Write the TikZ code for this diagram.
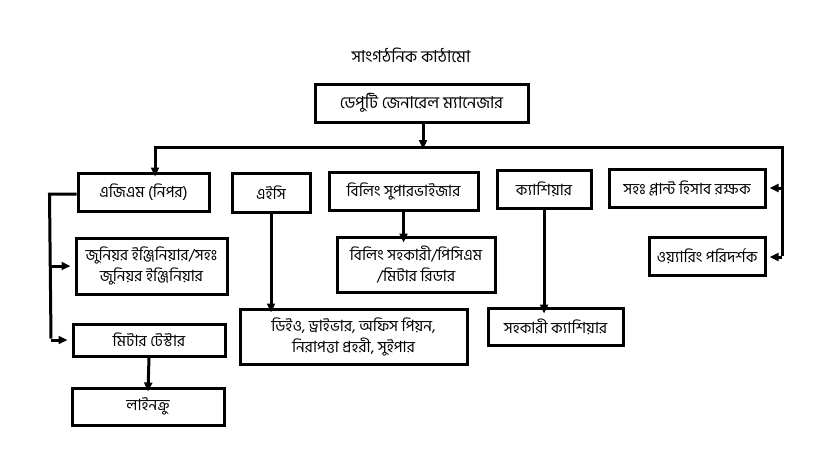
\documentclass[tikz,border=0pt]{standalone}
\usepackage{fontspec}
\newfontfamily\bn[Script=Bengali]{Hind Siliguri}
\usetikzlibrary{arrows.meta}
\begin{document}
\begin{tikzpicture}[x=1pt,y=-1pt,
  box/.style={draw, line width=3pt, inner sep=0pt, align=center,
    font=\bn\fontsize{15.5}{21}\selectfont},
  conn/.style={line width=3pt},
  arr/.style={line width=3pt, -{Triangle[length=9pt,width=8pt]}}]
\useasboundingbox (0,0) rectangle (835,460);
\fill[white] (0,0) rectangle (835,460);
\node[font=\bn\fontsize{16.5}{20}\selectfont] (title) at (411,55) {সাংগঠনিক কাঠামো};
\node[box, minimum width=213pt, minimum height=38pt, font=\bn\fontsize{16.5}{21}\selectfont] (dgm) at (421.5,103) {ডেপুটি জেনারেল ম্যানেজার};
\node[box, minimum width=131pt, minimum height=38pt] (agm) at (143.5,192) {এজিএম (নিপর)};
\node[box, minimum width=78pt, minimum height=39pt] (aec) at (271,192.5) {এইসি};
\node[box, minimum width=149pt, minimum height=38pt] (bsup) at (403.5,191) {বিলিং সুপারভাইজার};
\node[box, minimum width=94pt, minimum height=38pt] (cash) at (544,189) {ক্যাশিয়ার};
\node[box, minimum width=156pt, minimum height=38pt] (apak) at (687,188) {সহঃ প্লান্ট হিসাব রক্ষক};
\node[box, minimum width=116pt, minimum height=38pt] (wir) at (707,256) {ওয়্যারিং পরিদর্শক};
\node[box, minimum width=151pt, minimum height=56pt] (je) at (151.5,266) {জুনিয়র ইঞ্জিনিয়ার/সহঃ\\জুনিয়র ইঞ্জিনিয়ার};
\node[box, minimum width=152pt, minimum height=32pt] (mt) at (149,340) {মিটার টেস্টার};
\node[box, minimum width=152pt, minimum height=37pt] (lc) at (148,406.5) {লাইনক্রু};
\node[box, minimum width=227pt, minimum height=55pt] (dio) at (353.5,336.5) {ডিইও, ড্রাইভার, অফিস পিয়ন,\\নিরাপত্তা প্রহরী, সুইপার};
\node[box, minimum width=158pt, minimum height=55pt] (basst) at (416,264.5) {বিলিং সহকারী/পিসিএম\\/মিটার রিডার};
\node[box, minimum width=135pt, minimum height=37pt] (acash) at (555.5,326.5) {সহকারী ক্যাশিয়ার};
% bus
\coordinate (busL) at (155,147);
\coordinate (busR) at (782,147);
\coordinate (busM) at (423,147);
\coordinate (rb) at (782,257);
\coordinate (lv) at (51,194);
\draw[arr] (dgm.south -| busM) -- ([yshift=-2pt]busM);
\draw[conn] ([xshift=-1.5pt]busL) -- ([xshift=1.5pt]busR);
\draw[arr] (busL) -- ([yshift=-5pt]busL |- agm.north);
\draw[conn] (busR) -- ([yshift=1.5pt]rb);
\draw[arr] (apak.east -| busR) -- ([xshift=3pt]apak.east);
\draw[arr] (rb) -- ([xshift=3pt]rb -| wir.east);
% left branch
\draw[conn] (agm.west |- lv) -- ([xshift=-1.5pt]lv) -- ([yshift=1.5pt]lv |- mt.west);
\draw[arr] (lv |- je.west) -- ([xshift=-4pt]je.west);
\draw[arr] (lv |- mt.west) -- ([xshift=-4pt]mt.west);
\draw[arr] (mt.south) -- ([yshift=-5pt]lc.north);
% other branches
\draw[arr] (aec.south) -- ([yshift=-5pt]aec.south |- dio.north);
\draw[arr] (bsup.south) -- ([yshift=-7pt]bsup.south |- basst.north);
\draw[arr] (cash.south) -- ([yshift=-7pt]cash.south |- acash.north);
\end{tikzpicture}
\end{document}
